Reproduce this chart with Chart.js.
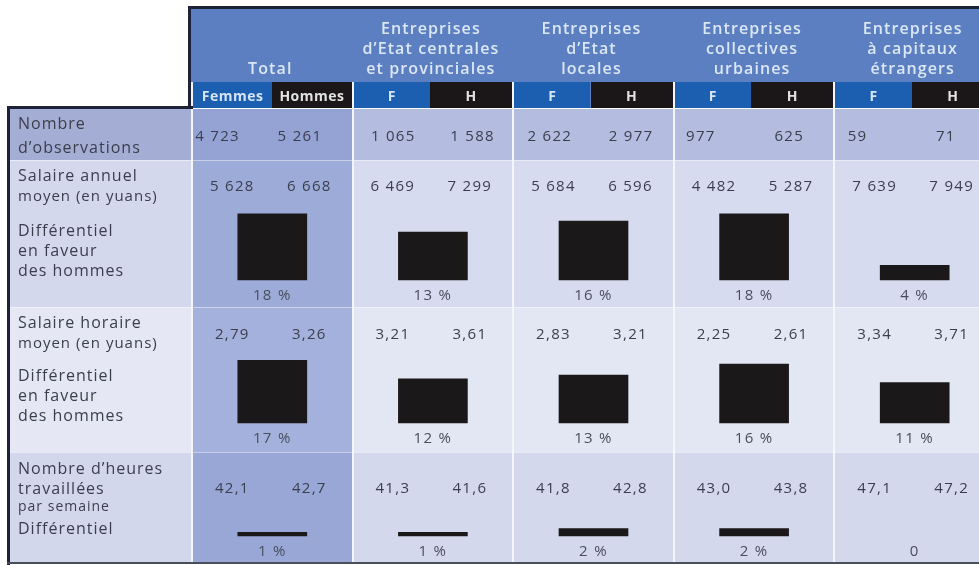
<!DOCTYPE html>
<html><head><meta charset="utf-8">
<script src="https://cdn.jsdelivr.net/npm/chart.js@4.4.1/dist/chart.umd.min.js"></script>
<style>
html,body{margin:0;padding:0;background:#fff;overflow:hidden;width:979px;height:565px;}
#stage{position:relative;width:979px;height:565px;overflow:hidden;font-family:"Open Sans","Noto Sans",sans-serif;}
#bg,#txt{position:absolute;left:0;top:0;width:979px;height:565px;}
#wrap{position:absolute;left:0;top:0;width:995px;height:565px;}
.r{position:absolute;}
.t{position:absolute;white-space:nowrap;line-height:1;}
</style></head>
<body><div id="stage"><div id="bg"></div><div id="wrap"><canvas id="c" width="995" height="565" style="width:995px;height:565px"></canvas></div><div id="txt"></div></div>
<script>
// ---------- DATA ----------
const categories = ['Total', "Entreprises d’Etat centrales et provinciales", "Entreprises d’Etat locales", 'Entreprises collectives urbaines', 'Entreprises à capitaux étrangers'];
const headerLines = [['Total'], ['Entreprises', 'd’Etat centrales', 'et provinciales'], ['Entreprises', 'd’Etat', 'locales'], ['Entreprises', 'collectives', 'urbaines'], ['Entreprises', 'à capitaux', 'étrangers']];
const subLabelsTotal = ['Femmes', 'Hommes'];
const subLabelsOther = ['F', 'H'];
const obsF = [4723, 1065, 2622, 977, 59];
const obsH = [5261, 1588, 2977, 625, 71];
const annualF = [5628, 6469, 5684, 4482, 7639];
const annualH = [6668, 7299, 6596, 5287, 7949];
const annualDiff = [18, 13, 16, 18, 4];
const hourlyF = [2.79, 3.21, 2.83, 2.25, 3.34];
const hourlyH = [3.26, 3.61, 3.21, 2.61, 3.71];
const hourlyDiff = [17, 12, 13, 16, 11];
const hoursF = [42.1, 41.3, 41.8, 43.0, 47.1];
const hoursH = [42.7, 41.6, 42.8, 43.8, 47.2];
const hoursDiff = [1, 1, 2, 2, 0];

// ---------- LAYOUT ----------
const H = 565;
const PX_PER_PCT = 3.68;
const BASE = {annual: 280, hourly: 423, hours: 536};
const LABEL_COL_RIGHT = 192;
const ROWS = [[109, 160], [160, 307], [307, 452], [452, 562]];
const COLORS = {
  label: ['#a4add3', '#d4d8ed', '#e5e7f4', '#d2d7ec'],
  total: ['#94a3d4', '#9dabd9', '#a4b1dc', '#98a7d6'],
  other: ['#b4bcdf', '#d7dbef', '#e3e6f3', '#d4d8ed'],
  header: '#5b7fc1', dark: '#1d2236', fBox: '#1c5fb0', hBox: '#1b1718', bar: '#1b1819',
  text: '#3b3e4c', headText: '#dbe6f6'
};

function axisFor(base) {
  return {type: 'linear', display: false, min: -(H - base) / PX_PER_PCT, max: base / PX_PER_PCT, grid: {display: false}};
}
function ds(data, axis) {
  return {data: data, yAxisID: axis, borderWidth: 0, barThickness: 69, grouped: false,
    backgroundColor: ctx => (ctx.raw === 0 ? 'rgba(0,0,0,0)' : COLORS.bar)};
}

const chart = new Chart(document.getElementById('c'), {
  type: 'bar',
  data: {labels: categories, datasets: [ds(annualDiff, 'yA'), ds(hourlyDiff, 'yB'), ds(hoursDiff, 'yC')]},
  options: {
    responsive: false, animation: false,
    layout: {padding: {left: LABEL_COL_RIGHT, right: 0, top: 0, bottom: 0}},
    plugins: {legend: {display: false}, tooltip: {enabled: false}},
    scales: {
      x: {type: 'category', display: false, offset: true, grid: {display: false}},
      yA: axisFor(BASE.annual), yB: axisFor(BASE.hourly), yC: axisFor(BASE.hours)
    }
  }
});

// ---------- BACKGROUND + TEXT ----------
const bg = document.getElementById('bg');
const txt = document.getElementById('txt');
function rect(x, y, w, h, c) {
  const d = document.createElement('div'); d.className = 'r';
  d.style.cssText = `left:${x}px;top:${y}px;width:${w}px;height:${h}px;background:${c}`;
  bg.appendChild(d);
}
function text(s, x, y, o) {
  o = o || {};
  const d = document.createElement('div'); d.className = 't'; d.textContent = s;
  const tx = o.align === 'center' ? '-50%' : (o.align === 'right' ? '-100%' : '0');
  d.style.cssText = `left:${x}px;top:${y}px;transform:translate(${tx},-50%);font-size:${o.size || 15}px;font-weight:${o.weight || 400};color:${o.color || COLORS.text};letter-spacing:${o.ls == null ? 1.3 : o.ls}px`;
  txt.appendChild(d);
}
const fmtInt = n => String(n).replace(/\B(?=(\d{3})+(?!\d))/g, '\u00a0');
const fmtDec = (n, d) => n.toFixed(d).replace('.', ',');
const fmtPct = v => v === 0 ? '0' : v + '\u00a0%';

const xs = chart.scales.x;
const centers = categories.map((_, i) => xs.getPixelForValue(i));
const colW = centers[1] - centers[0];

// header
rect(188, 6, 979 - 188, 102, COLORS.header);
rect(188, 6, 979 - 188, 3, COLORS.dark);
rect(188, 6, 3, 102, COLORS.dark);
// body rows
ROWS.forEach((r, ri) => {
  rect(7, r[0], LABEL_COL_RIGHT - 7, r[1] - r[0], COLORS.label[ri]);
  centers.forEach((c, ci) => {
    rect(c - colW / 2, r[0], colW, r[1] - r[0], ci === 0 ? COLORS.total[ri] : COLORS.other[ri]);
  });
  if (ri > 0) rect(7, r[0], 979, 1, 'rgba(255,255,255,0.45)');
});
// sub header boxes
centers.forEach((c, ci) => {
  const l = c - colW / 2 + 1, split = ci === 0 ? c : c - 3, rr = c + colW / 2 - 1;
  rect(l, 82, split - l, 26, COLORS.fBox);
  rect(split, 82, rr - split, 26, COLORS.hBox);
  const lab = ci === 0 ? subLabelsTotal : subLabelsOther;
  text(lab[0], (l + split) / 2, 95.5, {align: 'center', size: 14, weight: 700, color: '#d6e4f7', ls: 0.5});
  text(lab[1], (split + rr) / 2, 95.5, {align: 'center', size: 14, weight: 700, color: '#e2e2e2', ls: 0.5});
  const lines = headerLines[ci];
  lines.forEach((ln, li) => {
    text(ln, c - 2, 68 - (lines.length - 1 - li) * 20, {align: 'center', size: 16, weight: 600, color: COLORS.headText, ls: 1.1});
  });
});
// white column separators
[LABEL_COL_RIGHT].concat(centers.slice(1).map(c => c - colW / 2)).forEach(x => rect(x - 1, 82, 2, 562 - 82, '#f4f6fc'));
rect(LABEL_COL_RIGHT - 1, 109, 2, 453, '#f4f6fc');
// borders
rect(7, 106, LABEL_COL_RIGHT - 6, 3, COLORS.dark);
rect(7, 106, 3, 459, COLORS.dark);
rect(7, 562, 979, 2, '#4a4d5a');

// row labels
const LX = 18;
const lab = (s, y, sz) => text(s, LX, y, {size: sz || 16, ls: 1});
lab('Nombre', 123); lab('d’observations', 147);
lab('Salaire annuel', 175); lab('moyen (en yuans)', 195, 15);
lab('Différentiel', 230); lab('en faveur', 250); lab('des hommes', 270);
lab('Salaire horaire', 322); lab('moyen (en yuans)', 342, 15);
lab('Différentiel', 375); lab('en faveur', 395); lab('des hommes', 415);
lab('Nombre d’heures', 468); lab('travaillées', 488); lab('par semaine', 506, 14);
lab('Différentiel', 528);

// values
const row1FLeft = [-77, -62, -66, -68, -67];
const row1HRight = [50, 62, 60, 50, 41];
centers.forEach((c, i) => {
  text(fmtInt(obsF[i]), c + row1FLeft[i], 135, {align: 'left'});
  text(fmtInt(obsH[i]), c + row1HRight[i], 135, {align: 'right'});
  text(fmtInt(annualF[i]), c - 40, 185, {align: 'center'});
  text(fmtInt(annualH[i]), c + 37, 185, {align: 'center'});
  text(fmtDec(hourlyF[i], 2), c - 40, 333, {align: 'center'});
  text(fmtDec(hourlyH[i], 2), c + 37, 333, {align: 'center'});
  text(fmtDec(hoursF[i], 1), c - 40, 487, {align: 'center'});
  text(fmtDec(hoursH[i], 1), c + 37, 487, {align: 'center'});
  text(fmtPct(annualDiff[i]), c, chart.scales.yA.getPixelForValue(0) + 14, {align: 'center', color: '#4a4e5c'});
  text(fmtPct(hourlyDiff[i]), c, chart.scales.yB.getPixelForValue(0) + 14, {align: 'center', color: '#4a4e5c'});
  text(fmtPct(hoursDiff[i]), c, chart.scales.yC.getPixelForValue(0) + 14, {align: 'center', color: '#4a4e5c'});
});
</script>
</body></html>
